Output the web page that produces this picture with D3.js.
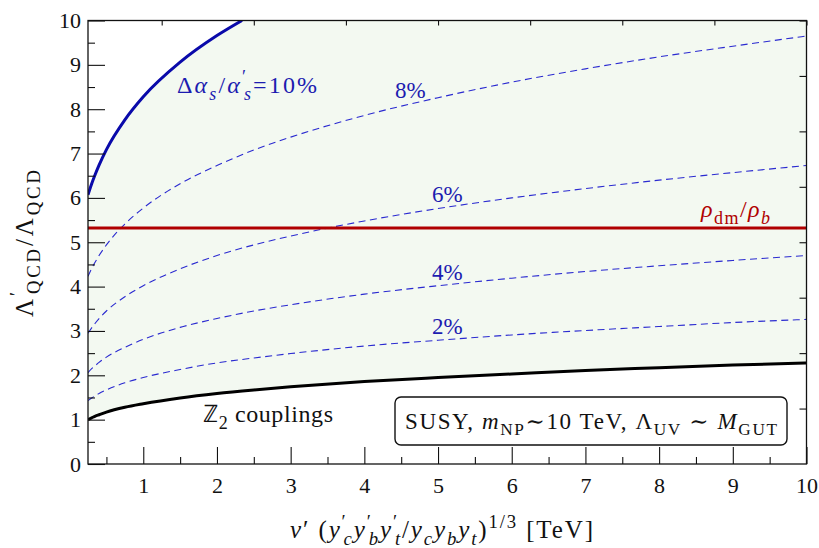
<!DOCTYPE html>
<html><head><meta charset="utf-8">
<script src="https://cdn.jsdelivr.net/npm/d3@7"></script>
<style>body{margin:0;background:#fff;} svg{display:block;}</style>
</head><body>
<svg id="c" width="819" height="548"></svg>
<script>
// ---- data ----
const xs = [0.25,0.3,0.35,0.4,0.5,0.75,1,1.5,2,2.5,3,4,5,6,7,8,9,10];
const z2Couplings = [1.00,1.04,1.08,1.11,1.17,1.28,1.36,1.49,1.59,1.67,1.74,1.86,1.95,2.03,2.11,2.17,2.23,2.28];
const pct2 = [1.43,1.49,1.54,1.59,1.67,1.83,1.95,2.13,2.28,2.39,2.49,2.66,2.79,2.91,3.01,3.10,3.19,3.26];
const pct4 = [2.06,2.15,2.22,2.29,2.41,2.63,2.81,3.08,3.28,3.45,3.59,3.83,4.02,4.19,4.34,4.47,4.59,4.70];
const pct6 = [2.95,3.07,3.18,3.28,3.45,3.77,4.02,4.40,4.70,4.94,5.14,5.48,5.76,6.00,6.21,6.40,6.57,6.73];
const pct8 = [4.23,4.41,4.56,4.70,4.94,5.41,5.77,6.32,6.73,7.08,7.37,7.86,8.26,8.61,8.91,9.18,9.42,9.65];
const xs10 = [0.25,0.3,0.35,0.4,0.5,0.75,1,1.5,2,2.34];
const pct10 = [6.07,6.32,6.54,6.74,7.09,7.76,8.28,9.06,9.66,10.0];
const rhoRatio = 5.32;
const xMajorTicks = [1,2,3,4,5,6,7,8,9,10];
const xMinorTicks = [0.5,1.5,2.5,3.5,4.5,5.5,6.5,7.5,8.5,9.5];
const yMajorTicks = [0,1,2,3,4,5,6,7,8,9,10];
const yMinorTicks = [0.5,1.5,2.5,3.5,4.5,5.5,6.5,7.5,8.5,9.5];
const secondaryTicks = [1.25,2.5,3.75,5,6.25,7.5,8.75,10];

// ---- layout ----
const L = 88, R = 806.5, T = 20.5, B = 464;
const svg = d3.select('#c');
const x = d3.scaleLinear().domain([0.25,10]).range([L,R]);
const y = d3.scaleLinear().domain([0,10]).range([B,T]);
const FONT = 'Liberation Serif, Tinos, Times New Roman, Times, Noto Serif, DejaVu Serif, FreeSerif, serif';

svg.append('defs').append('clipPath').attr('id','clip')
  .append('rect').attr('x',L).attr('y',T).attr('width',R-L).attr('height',B-T);
const plot = svg.append('g').attr('clip-path','url(#clip)');

const line = d3.line().x(d=>x(d[0])).y(d=>y(d[1])).curve(d3.curveMonotoneX);
const pts = (xa, ya) => xa.map((v,i)=>[v, ya[i]]);

// fill region
const upper = pts(xs10, pct10).concat([[10,10]]);
const lower = pts(xs, z2Couplings).reverse();
plot.append('path')
  .attr('d', line(upper) + 'L' + line(lower).slice(1) + 'Z')
  .attr('fill','#f3f9f1').attr('stroke','none');

// dashed curves
[pct2,pct4,pct6,pct8].forEach(arr=>{
  plot.append('path').attr('d', line(pts(xs,arr)))
    .attr('fill','none').attr('stroke','#2a2ad0').attr('stroke-width',1.1)
    .attr('stroke-dasharray','7,4.5');
});
// red line
plot.append('path').attr('d', line([[0.25,rhoRatio],[10,rhoRatio]]))
  .attr('fill','none').attr('stroke','#b00000').attr('stroke-width',3);
// black curve
plot.append('path').attr('d', line(pts(xs,z2Couplings)))
  .attr('fill','none').attr('stroke','#000').attr('stroke-width',3);
// blue curve
plot.append('path').attr('d', line(pts(xs10,pct10)))
  .attr('fill','none').attr('stroke','#0a0aaa').attr('stroke-width',3);

// ---- axes ----
function styleAxis(g){ g.attr('font-family',FONT); g.select('.domain').remove(); g.selectAll('line').attr('stroke','#111').attr('stroke-width',1.1); }
function styleLabels(g){ g.selectAll('text').attr('font-family',FONT).attr('font-size',22).attr('fill','#111'); }
svg.append('g').attr('transform',`translate(0,${B})`)
  .call(d3.axisBottom(x).tickValues(xMajorTicks).tickSize(-17).tickPadding(13).tickFormat(d3.format('d')))
  .call(styleAxis).call(styleLabels);
svg.append('g').attr('transform',`translate(0,${B})`)
  .call(d3.axisBottom(x).tickValues(xMinorTicks).tickSize(-7).tickFormat(''))
  .call(styleAxis);
svg.append('g').attr('transform',`translate(${L},0)`)
  .call(d3.axisLeft(y).tickValues(yMajorTicks).tickSize(-17).tickPadding(7).tickFormat(d3.format('d')))
  .call(styleAxis).call(styleLabels);
svg.append('g').attr('transform',`translate(${L},0)`)
  .call(d3.axisLeft(y).tickValues(yMinorTicks).tickSize(-7).tickFormat(''))
  .call(styleAxis);
svg.append('g').attr('transform',`translate(0,${T})`)
  .call(d3.axisTop(x).tickValues(secondaryTicks).tickSize(-5).tickFormat(''))
  .call(styleAxis);
svg.append('g').attr('transform',`translate(${R},0)`)
  .call(d3.axisRight(y).tickValues(secondaryTicks).tickSize(-7).tickFormat(''))
  .call(styleAxis);
svg.append('rect').attr('x',L).attr('y',T).attr('width',R-L).attr('height',B-T)
  .attr('fill','none').attr('stroke','#111').attr('stroke-width',1.3);

// ---- math text helper ----
function mathText(parent, px, py, segs, size, color, opts={}){
  const t = parent.append('text').attr('x',px).attr('y',py)
    .attr('font-family',FONT).attr('font-size',size).attr('fill',color);
  if(opts.anchor) t.attr('text-anchor',opts.anchor);
  if(opts.len) t.attr('textLength',opts.len).attr('lengthAdjust','spacing');
  if(opts.transform) t.attr('transform',opts.transform);
  let cur = 0;
  segs.forEach(s=>{
    const kind = s[1]||'';
    let shift = 0, fs = size;
    if(kind.includes('b')){ shift = 0.28*size; fs = 0.75*size; }
    if(kind.includes('p')){ shift = -0.42*size; fs = 0.75*size; }
    const sp = t.append('tspan').text(s[0]).attr('font-size',fs).attr('dy',shift-cur);
    if(kind.includes('i')) sp.attr('font-style','italic');
    if(s[2]!==undefined) sp.attr('dx',s[2]);
    cur = shift;
  });
  return t;
}

const BLUE = '#1c1cb0';
mathText(svg,177,93,[['Δ'],['α','i'],['s','ib'],['/'],['α','i'],['′','p'],['s','ib',-4],['=10%']],24,BLUE,{len:140});
mathText(svg,395,98,[['8%']],23,BLUE);
mathText(svg,432,202,[['6%']],23,BLUE);
mathText(svg,432,280,[['4%']],23,BLUE);
mathText(svg,432,334,[['2%']],23,BLUE);
mathText(svg,701,217,[['ρ','i'],['dm','b'],['/'],['ρ','i'],['b','ib']],24,'#b00000',{len:69});
mathText(svg,203,422,[['ℤ'],['2','b'],[' couplings']],24,'#111',{len:130});

// box
svg.append('rect').attr('x',395).attr('y',397).attr('width',392).attr('height',48).attr('rx',6)
  .attr('fill','#fff').attr('stroke','#111').attr('stroke-width',1.4);
mathText(svg,405,429,[['SUSY, '],['m','i'],['NP','b'],['∼10 TeV, '],['Λ'],['UV','b'],[' ∼ '],['M','i'],['GUT','b']],23,'#111',{len:372});

// axis titles
mathText(svg,290,538,[['v','i'],['′'],[' ('],['y','i'],['′','p'],['c','ib',-4],['y','i'],['′','p'],['b','ib',-4],['y','i'],['′','p'],['t','ib',-4],['/'],['y','i'],['c','ib'],['y','i'],['b','ib'],['y','i'],['t','ib'],[')'],['1/3','p'],[' [TeV]']],25,'#111',{len:303});
mathText(svg,0,0,[['Λ'],['′','p'],['QCD','b',-5],['/Λ'],['QCD','b']],25,'#111',{len:147,transform:'translate(33,317) rotate(-90)'});
</script>
</body></html>
